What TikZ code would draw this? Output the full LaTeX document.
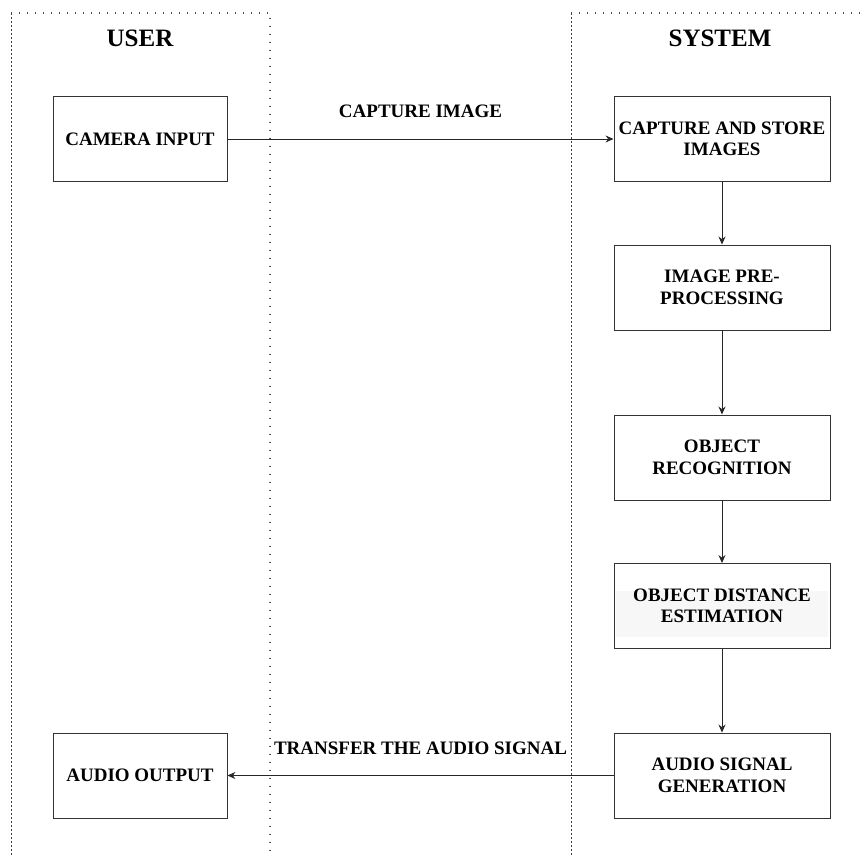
\documentclass[tikz,border=0pt]{standalone}
\usepackage{fontspec}
\setmainfont{Liberation Serif}
\usetikzlibrary{arrows.meta}
\begin{document}
\begin{tikzpicture}[x=1pt,y=-1pt,
  box/.style={draw=black!80, line width=0.9pt, minimum width=216pt, minimum height=85pt,
    align=center, inner sep=0pt, font=\fontsize{19}{21.5}\selectfont\bfseries},
  ubox/.style={box, minimum width=174pt},
  lanedot/.style={line width=1.4pt, dash pattern=on 1.3pt off 6.7pt, black!70},
  laneside/.style={line width=0.9pt, dash pattern=on 2pt off 2pt, black!75},
  title/.style={inner sep=0pt, font=\fontsize{25}{28}\selectfont\bfseries},
  arr/.style={-{Stealth[length=8pt,width=7pt]}, line width=0.9pt, black!85},
  lbl/.style={inner sep=0pt, text=black, font=\fontsize{19}{21.5}\selectfont\bfseries}]
\useasboundingbox (0,0) rectangle (865,856);
% swimlanes
\draw[lanedot] (11,13) -- (270,13) -- (270,856);
\draw[laneside] (11,13) -- (11,856);
\draw[lanedot] (571,13) -- (865,13);
\draw[laneside] (571,13) -- (571,856);
\node[title] (user) at (140,38) {USER};
\node[title] (system) at (720,38) {SYSTEM};
% faint background band behind distance text
\fill[black!3] (616,591) rectangle (828,637);
% boxes
\node[ubox] (cam) at (140,139) {CAMERA INPUT};
\node[box] (cap) at (722,139) {CAPTURE AND STORE\\IMAGES};
\node[box] (pre) at (722,287.5) {IMAGE PRE-\\PROCESSING};
\node[box] (rec) at (722,457.5) {OBJECT\\RECOGNITION};
\node[box] (dist) at (722,606) {OBJECT DISTANCE\\ESTIMATION};
\node[box] (gen) at (722,775.5) {AUDIO SIGNAL\\GENERATION};
\node[ubox] (out) at (140,775.5) {AUDIO OUTPUT};
% connectors
\draw[arr] (cam) -- node[lbl, above=21pt] {CAPTURE IMAGE} (cap);
\draw[arr] (cap) -- (pre);
\draw[arr] (pre) -- (rec);
\draw[arr] (rec) -- (dist);
\draw[arr] (dist) -- (gen);
\draw[arr] (gen) -- node[lbl, above=20pt] {TRANSFER THE AUDIO SIGNAL} (out);
\end{tikzpicture}
\end{document}
